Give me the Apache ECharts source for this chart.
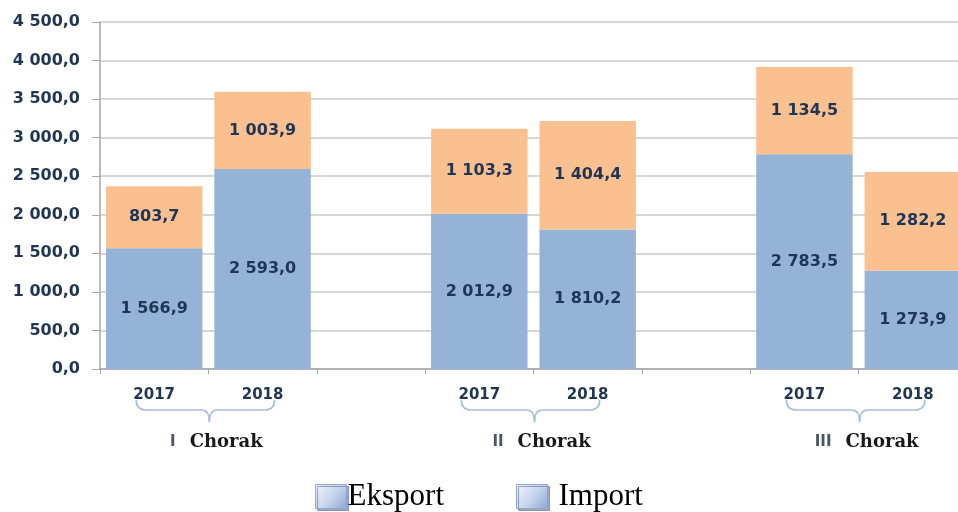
<!DOCTYPE html>
<html>
<head>
<meta charset="utf-8">
<script src="https://cdn.jsdelivr.net/npm/echarts@6/dist/echarts.min.js"></script>
<style>html,body{margin:0;padding:0;background:#fff}#c{width:958px;height:512px}</style>
</head>
<body>
<div id="c"></div>
<script>
const categories = ['2017', '2018', '', '2017', '2018', '', '2017', '2018'];
const eksport = [1566.9, 2593.0, null, 2012.9, 1810.2, null, 2783.5, 1273.9];
const importVals = [803.7, 1003.9, null, 1103.3, 1404.4, null, 1134.5, 1282.2];
const groupRoman = ['I', 'II', 'III'];
const groupStart = [0, 3, 6];

function fmt(v, dec) {
  const s = Number(v).toFixed(dec);
  const parts = s.split('.');
  const intPart = parts[0].replace(/\B(?=(\d{3})+(?!\d))/g, ' ');
  return parts.length > 1 ? intPart + ',' + parts[1] : intPart;
}

const navy = '#1f3556';
const chart = echarts.init(document.getElementById('c'), null, {renderer: 'canvas'});
const legendIcon = {
  color: {type: 'linear', x: 0, y: 0, x2: 1, y2: 1,
    colorStops: [{offset: 0, color: '#f2f5fb'}, {offset: 0.5, color: '#c9d6ee'}, {offset: 1, color: '#8da6d4'}]},
  borderColor: '#8ea5cf', borderWidth: 1,
  shadowColor: 'rgba(90,110,150,0.6)', shadowBlur: 0, shadowOffsetX: 2, shadowOffsetY: 2
};
chart.setOption({
  animation: false,
  backgroundColor: '#fff',
  grid: {left: 100, top: 22, bottom: 143, right: -9, containLabel: false, outerBoundsMode: 'none'},
  legend: {
    left: 'center', top: 476,
    itemWidth: 31, itemHeight: 24, itemGap: 72,
    textStyle: {fontFamily: 'Liberation Serif', fontSize: 31, color: '#000', padding: [0, 0, 0, -4]},
    data: [
      {name: 'Eksport', icon: 'rect', itemStyle: legendIcon},
      {name: 'Import', icon: 'rect', itemStyle: legendIcon, textStyle: {padding: [0, 0, 0, 6]}}
    ]
  },
  xAxis: {
    type: 'category', data: categories,
    axisLine: {lineStyle: {color: '#a6a6a6', width: 1.5}},
    axisTick: {show: true, length: 5, lineStyle: {color: '#a6a6a6'}},
    axisLabel: {margin: 19, color: navy, fontFamily: 'DejaVu Sans', fontWeight: 'bold', fontSize: 15}
  },
  yAxis: {
    type: 'value', min: 0, max: 4500, interval: 500,
    axisLine: {show: true, lineStyle: {color: '#a6a6a6', width: 1.5}},
    axisTick: {show: true, length: 8, lineStyle: {color: '#a6a6a6'}},
    splitLine: {lineStyle: {color: '#c8c8c8', width: 1.5}},
    axisLabel: {margin: 20, color: navy, fontFamily: 'DejaVu Sans', fontWeight: 'bold', fontSize: 16,
      formatter: v => fmt(v, 1)}
  },
  series: [
    {name: 'Eksport', type: 'bar', stack: 't', data: eksport, barCategoryGap: '11%',
      itemStyle: {color: '#95b3d7'},
      label: {show: true, position: 'inside', color: navy, fontFamily: 'DejaVu Sans', fontWeight: 'bold', fontSize: 16,
        formatter: p => fmt(p.value, 1)}},
    {name: 'Import', type: 'bar', stack: 't', data: importVals, barCategoryGap: '11%',
      itemStyle: {color: '#fac090'},
      label: {show: true, position: 'inside', color: navy, fontFamily: 'DejaVu Sans', fontWeight: 'bold', fontSize: 16,
        formatter: p => fmt(p.value, 1)}}
  ]
});

const y0 = chart.convertToPixel({yAxisIndex: 0}, 0);
const graphics = [];
const braceStyle = {fill: null, stroke: '#a7bcdc', lineWidth: 1.6};
groupStart.forEach((s, g) => {
  const c0 = chart.convertToPixel({xAxisIndex: 0}, s);
  const c1 = chart.convertToPixel({xAxisIndex: 0}, s + 1);
  const mid = (c0 + c1) / 2;
  const L = c0 - 18, R = c1 + 12, M = mid + 1;
  const top = y0 + 31, hy = y0 + 41, tip = y0 + 53;
  graphics.push({type: 'bezierCurve', silent: true, style: braceStyle,
    shape: {x1: L, y1: top, cpx1: L, cpy1: hy, x2: L + 10, y2: hy}});
  graphics.push({type: 'line', silent: true, style: braceStyle,
    shape: {x1: L + 10, y1: hy, x2: M - 8, y2: hy}});
  graphics.push({type: 'bezierCurve', silent: true, style: braceStyle,
    shape: {x1: M - 8, y1: hy, cpx1: M, cpy1: hy, x2: M, y2: tip}});
  graphics.push({type: 'bezierCurve', silent: true, style: braceStyle,
    shape: {x1: M, y1: tip, cpx1: M, cpy1: hy, x2: M + 8, y2: hy}});
  graphics.push({type: 'line', silent: true, style: braceStyle,
    shape: {x1: M + 8, y1: hy, x2: R - 10, y2: hy}});
  graphics.push({type: 'bezierCurve', silent: true, style: braceStyle,
    shape: {x1: R - 10, y1: hy, cpx1: R, cpy1: hy, x2: R, y2: top}});
  graphics.push({type: 'text', x: mid + 8, y: y0 + 73, silent: true,
    style: {text: '{r|' + groupRoman[g] + '}{c|Chorak}', align: 'center', verticalAlign: 'middle',
      rich: {
        r: {fontFamily: 'DejaVu Sans', fontWeight: 'bold', fontSize: 15, fill: '#4a5668', padding: [0, 14, 0, 0]},
        c: {fontFamily: 'DejaVu Serif', fontWeight: 'bold', fontSize: 18, fill: '#1a1a1a'}
      }}});
});
chart.setOption({graphic: graphics});
</script>
</body>
</html>
